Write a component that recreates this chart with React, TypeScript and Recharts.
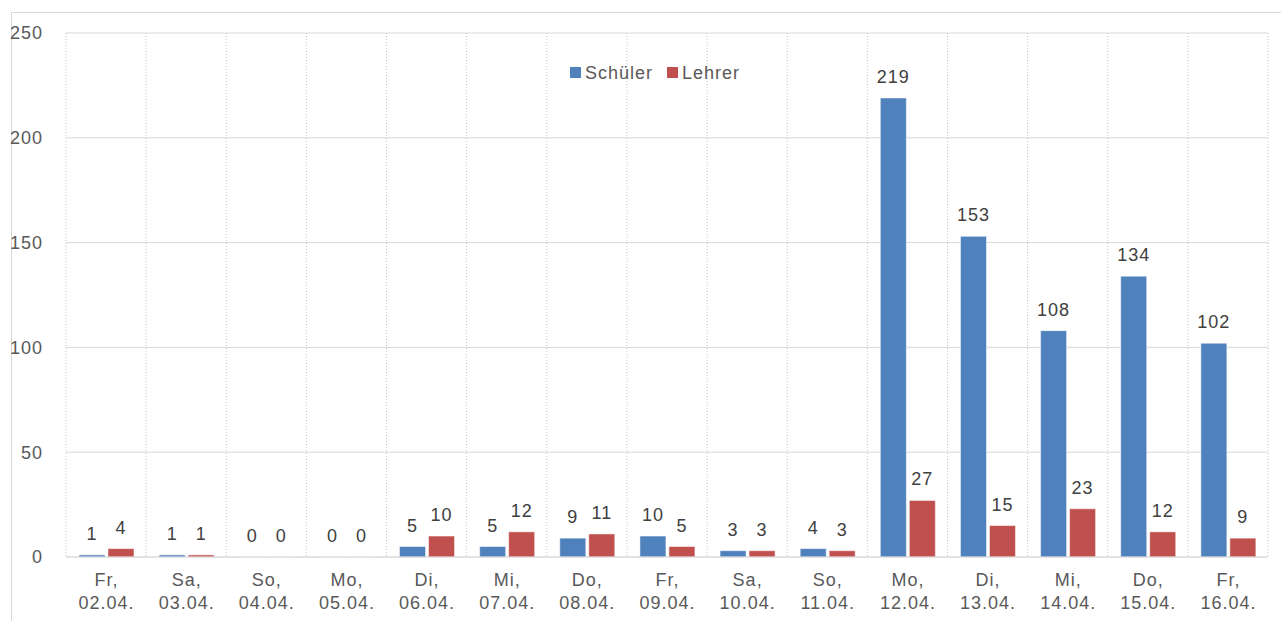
import { BarChart, Bar, XAxis, YAxis, CartesianGrid, LabelList } from 'recharts';

const weekdays = ['Fr,', 'Sa,', 'So,', 'Mo,', 'Di,', 'Mi,', 'Do,', 'Fr,', 'Sa,', 'So,', 'Mo,', 'Di,', 'Mi,', 'Do,', 'Fr,'];
const dates = ['02.04.', '03.04.', '04.04.', '05.04.', '06.04.', '07.04.', '08.04.', '09.04.', '10.04.', '11.04.', '12.04.', '13.04.', '14.04.', '15.04.', '16.04.'];
const schueler = [1, 1, 0, 0, 5, 5, 9, 10, 3, 4, 219, 153, 108, 134, 102];
const lehrer = [4, 1, 0, 0, 10, 12, 11, 5, 3, 3, 27, 15, 23, 12, 9];
const yTicks = [0, 50, 100, 150, 200, 250];

const data = dates.map((d, i) => ({
  key: String(i),
  day: weekdays[i],
  date: d,
  schueler: schueler[i],
  lehrer: lehrer[i],
}));

const FONT = '"Liberation Sans", Arial, sans-serif';
const BLUE = '#4f81bd';
const RED = '#c0504d';

// keep zero bars as (invisible) hairlines so their "0" labels still show
const zeroSize = (v: any) => (v === 0 ? 0.01 : 0);

function DateTick(props: any) {
  const { x, y, payload } = props;
  const row = data[Number(payload.value)];
  return (
    <text x={x + 0.5} y={y} textAnchor="middle" fill="#595959" fontSize={18} letterSpacing={1} fontFamily={FONT}>
      <tspan x={x + 0.5} dy={21}>{row.day}</tspan>
      <tspan x={x + 0.5} dy={23}>{row.date}</tspan>
    </text>
  );
}

function LegendBox() {
  const item = (color: string, label: string) => (
    <span style={{ display: 'inline-flex', alignItems: 'center', marginRight: 14 }}>
      <span style={{ width: 11, height: 11, background: color, display: 'inline-block', marginRight: 4 }} />
      <span>{label}</span>
    </span>
  );
  return (
    <div
      style={{
        position: 'absolute',
        left: 570,
        top: 61,
        whiteSpace: 'nowrap',
        fontSize: 18,
        letterSpacing: 1,
        lineHeight: '22px',
        color: '#595959',
        fontFamily: FONT,
      }}
    >
      {item(BLUE, 'Schüler')}
      {item(RED, 'Lehrer')}
    </div>
  );
}

export default function App() {
  return (
    <div style={{ position: 'absolute', left: 0, top: 0, width: 1281, height: 621, overflow: 'hidden', background: '#fff' }}>
      <div
        style={{
          position: 'absolute',
          left: 11,
          top: 12,
          width: 1290,
          height: 640,
          border: '1px solid #d9d9d9',
          boxSizing: 'border-box',
        }}
      />
      <div style={{ position: 'absolute', left: 0, top: 0 }}>
        <BarChart
          width={1281}
          height={621}
          data={data}
          margin={{ top: 33, right: 13, bottom: 4, left: 16 }}
          barCategoryGap={13}
          barGap={3}
        >
          <CartesianGrid stroke="#d9d9d9" vertical={false} />
          <CartesianGrid
            horizontal={false}
            stroke="#c4c4c4"
            strokeDasharray="1 2"
            verticalCoordinatesGenerator={({ offset }: any) =>
              Array.from({ length: dates.length + 1 }, (_, i) => offset.left + (i * offset.width) / dates.length)
            }
          />
          <XAxis
            dataKey="key"
            height={60}
            tick={<DateTick />}
            tickLine={false}
            axisLine={{ stroke: '#d9d9d9' }}
            interval={0}
          />
          <YAxis
            domain={[0, 250]}
            ticks={yTicks}
            width={50}
            tickLine={false}
            axisLine={false}
            tickMargin={17}
            tick={{ fill: '#595959', fontSize: 18, fontFamily: FONT, letterSpacing: 1 }}
          />
          <Bar dataKey="schueler" name="Schüler" fill={BLUE} stroke="#ffffff" strokeWidth={0.5} minPointSize={zeroSize} isAnimationActive={false}>
            <LabelList dataKey="schueler" position="top" offset={15} fill="#404040" fontSize={18} letterSpacing={1} fontFamily={FONT} />
          </Bar>
          <Bar dataKey="lehrer" name="Lehrer" fill={RED} stroke="#ffffff" strokeWidth={0.5} minPointSize={zeroSize} isAnimationActive={false}>
            <LabelList dataKey="lehrer" position="top" offset={15} fill="#404040" fontSize={18} letterSpacing={1} fontFamily={FONT} />
          </Bar>
        </BarChart>
      </div>
      <LegendBox />
    </div>
  );
}
